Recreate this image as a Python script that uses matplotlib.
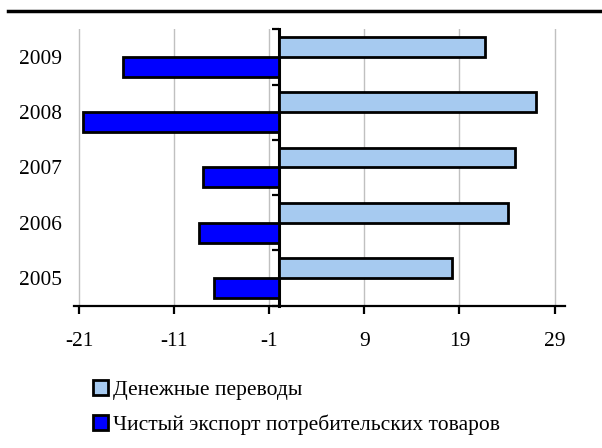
import matplotlib.pyplot as plt
from matplotlib.lines import Line2D
from matplotlib.patches import Patch
import numpy as np

years = ["2005", "2006", "2007", "2008", "2009"]
remittances = [18.2, 24.1, 24.8, 27.0, 21.7]
net_export = [-6.8, -8.4, -8.0, -20.6, -16.4]
series_names = ["Денежные переводы", "Чистый экспорт потребительских товаров"]
x_ticks = [-21, -11, -1, 9, 19, 29]

light = "#A6CAF0"
dark = "#0000FF"

plt.rcParams['font.family'] = ['Liberation Serif', 'DejaVu Serif']


def main():
    fig = plt.figure(figsize=(6.02, 4.48), dpi=100)
    ax = fig.add_axes([74 / 602, 1 - 305.7 / 448, (565 - 74) / 602, (305.7 - 29.3) / 448])

    y = np.arange(len(years))
    h = 0.36
    ax.barh(y + h / 2, remittances, height=h, color=light, edgecolor="black", linewidth=2, zorder=3)
    ax.barh(y - h / 2, net_export, height=h, color=dark, edgecolor="black", linewidth=2, zorder=3)

    xmin, xmax = -21.55, 30.1
    ax.set_xlim(xmin, xmax)
    ax.set_ylim(-0.5, len(years) - 0.5)
    ax.set_xticks(x_ticks)
    ax.set_xticklabels([str(v) for v in x_ticks], fontsize=15.4)
    ax.set_yticks(y)
    ax.set_yticklabels(years, fontsize=15.4)
    ax.tick_params(axis="y", length=0, pad=9)
    ax.tick_params(axis="x", direction="out", length=6, width=1.6, pad=13)

    ax.grid(True, axis="x", color="#c0c0c0", linewidth=1, zorder=0)
    for s in ["top", "right", "left"]:
        ax.spines[s].set_visible(False)
    ax.spines["bottom"].set_linewidth(1.6)

    # vertical axis crossing at zero, with ticks between categories
    sec = ax.secondary_yaxis((0 - xmin) / (xmax - xmin))
    sec.set_yticks(np.arange(len(years) + 1) - 0.5)
    sec.set_yticklabels([])
    sec.tick_params(direction="out", length=5, width=1.6)
    sec.spines["left"].set_linewidth(2.2)
    sec.spines["left"].set_zorder(4)

    # heavy rule across the top
    fig.add_artist(Line2D([8 / 602, 1], [1 - 11 / 448] * 2, color="black", linewidth=2.5,
                          transform=fig.transFigure))

    handles = [Patch(facecolor=light, edgecolor="black", linewidth=2),
               Patch(facecolor=dark, edgecolor="black", linewidth=2)]
    fig.legend(handles, series_names, loc="upper left", bbox_to_anchor=(93 / 602, 1 - 380 / 448),
               frameon=False, fontsize=15.5, handlelength=0.7, handleheight=0.7,
               handletextpad=0.25, labelspacing=0.66, borderpad=0, borderaxespad=0)

    fig.savefig("out.png", dpi=100)


if __name__ == "__main__":
    main()
